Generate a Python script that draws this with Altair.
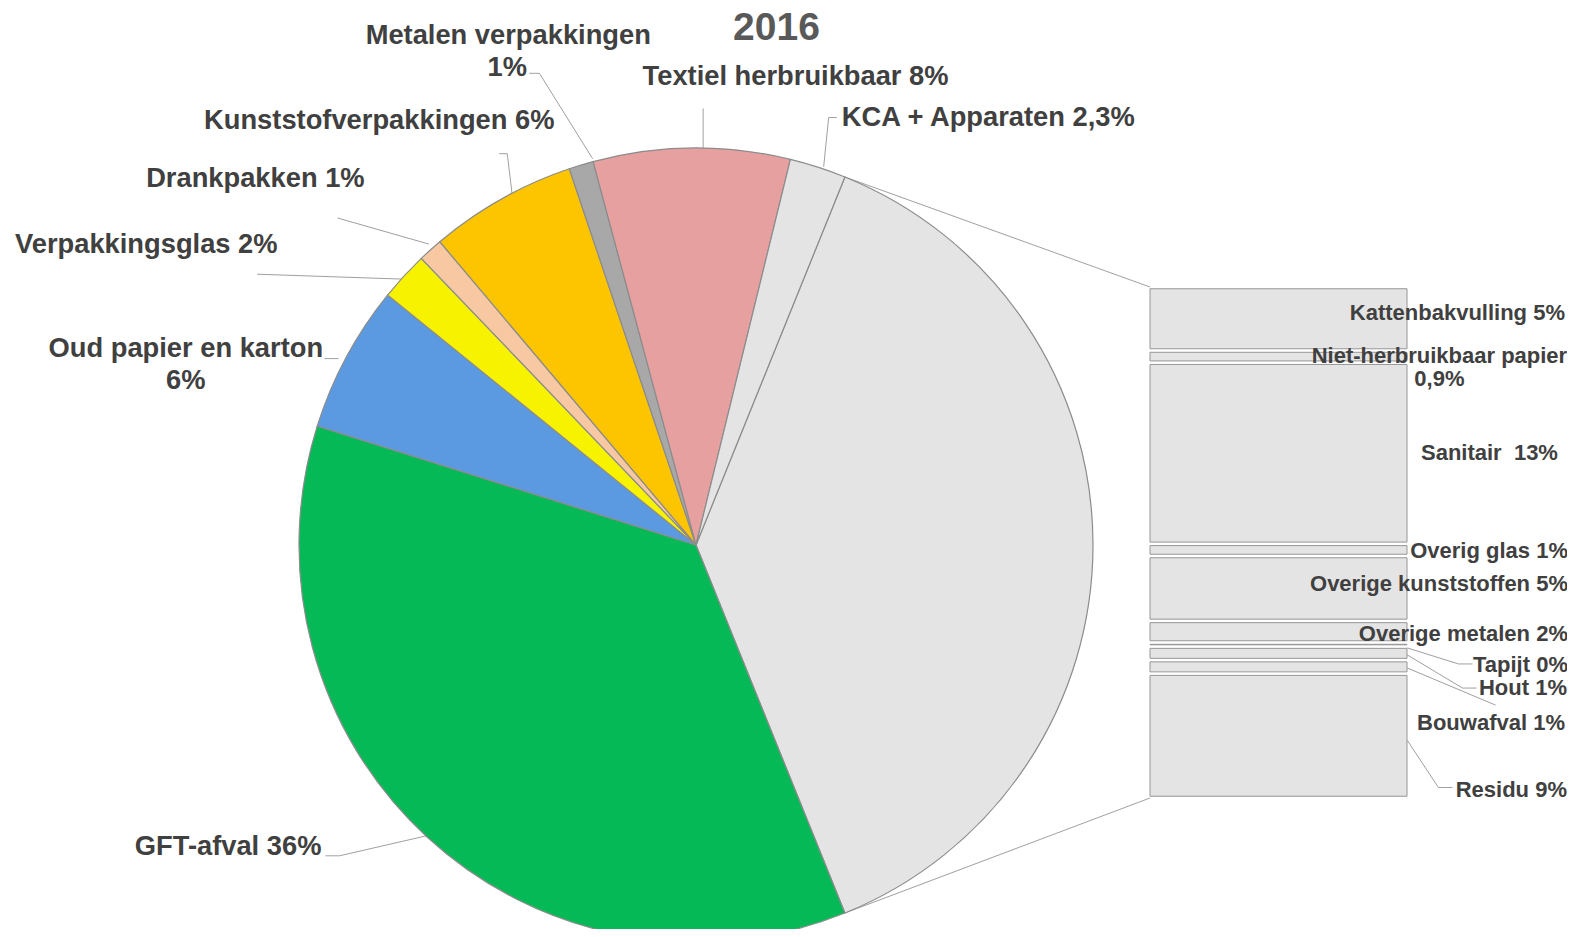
import math
import altair as alt
import pandas as pd

# ---------------- data ----------------
pie_labels = ["GFT-afval", "Oud papier en karton", "Verpakkingsglas", "Drankpakken",
              "Kunststofverpakkingen", "Metalen verpakkingen", "Textiel herbruikbaar",
              "KCA + Apparaten"]
pie_values = [36, 6, 2, 1, 6, 1, 8, 2.3]
pie_display = ["36%", "6%", "2%", "1%", "6%", "1%", "8%", "2,3%"]

bar_labels = ["Kattenbakvulling", "Niet-herbruikbaar papier", "Sanitair", "Overig glas",
              "Overige kunststoffen", "Overige metalen", "Tapijt", "Hout", "Bouwafval", "Residu"]
bar_values = [4.7, 0.9, 13.4, 0.9, 4.8, 1.6, 0.3, 1.0, 1.0, 9.2]
bar_display = ["5%", "0,9%", "13%", "1%", "5%", "2%", "0%", "1%", "1%", "9%"]

title_text = "2016"

# ---------------- styling / layout ----------------
M = 8          # page margin
S = 1575 / 1568  # layout read on a slightly shrunk view
W, H = 1559, 921
CX, CY, R = 696 - M, 545 - M, 397
BAR_X0, BAR_X1 = 1150 - M, 1407 - M
BAR_Y0, BAR_Y1 = 287 - M, 798 - M
TXT = "#404040"
FONT = "Liberation Sans"
PIE_FS, BAR_FS = 27.3, 22

grey_total = sum(bar_values)
pie_all_labels = ["Overig"] + pie_labels
pie_all_values = [grey_total] + pie_values
pie_total = sum(pie_all_values)
grey_span = 2 * math.pi * grey_total / pie_total
A0 = math.pi / 2 - grey_span / 2  # grey slice centred on the right

pie_colors = ["#e4e4e4", "#06b957", "#5b9ae0", "#f7f200", "#f8c8a2",
              "#fdc400", "#a8a8a8", "#e6a0a0", "#e4e4e4"]

pie_df = pd.DataFrame({"cat": pie_all_labels, "value": pie_all_values,
                       "idx": list(range(len(pie_all_labels)))})
bar_df = pd.DataFrame({"cat": bar_labels, "value": bar_values,
                       "idx": list(range(len(bar_labels)))})

pie = alt.Chart(pie_df).mark_arc(outerRadius=R, stroke="#8c8c8c", strokeWidth=1.2).encode(
    theta=alt.Theta("value:Q", stack=True,
                    scale=alt.Scale(range=[A0, A0 + 2 * math.pi])),
    color=alt.Color("cat:N", scale=alt.Scale(domain=pie_all_labels, range=pie_colors),
                    legend=None),
    order=alt.Order("idx:Q"),
    x=alt.value(CX), y=alt.value(CY),
)

bar = alt.Chart(bar_df).transform_window(
    cum="sum(value)", sort=[alt.SortField("idx")], frame=[None, 0]
).transform_calculate(
    y0="datum.cum - datum.value + 0.13", y1="datum.cum - 0.13"
).mark_rect(fill="#e4e4e4", stroke="#969696", strokeWidth=1).encode(
    y=alt.Y("y0:Q", scale=alt.Scale(domain=[0, grey_total], range=[BAR_Y0, BAR_Y1],
                                    nice=False, zero=True), axis=None),
    y2="y1:Q",
    x=alt.value(BAR_X0), x2=alt.value(BAR_X1),
)

# connectors from pie to bar (pie geometry)
def edge(a):
    return (CX + R * math.sin(a), CY - R * math.cos(a))

p0 = edge(A0)
p1 = edge(A0 + grey_span)

# leader lines (positions read on the shrunk view)
leaders = [
    [(527, 73), (537, 73), (590, 158)],
    [(700, 108), (700, 148)],
    [(833, 117), (825, 117), (820, 166)],
    [(497, 153), (505, 153), (510, 195)],
    [(336, 217), (427, 243)],
    [(256, 273), (405, 278)],
    [(323, 357), (337, 357)],
    [(324, 852), (338, 852), (425, 832)],
    [(1401, 645), (1452, 661), (1466, 661)],
    [(1401, 652), (1456, 685), (1470, 685)],
    [(1401, 665), (1489, 702)],
    [(1401, 737), (1432, 784), (1446, 784)],
]
rows = []
for i, path in enumerate(leaders):
    for j, (x, y) in enumerate(path):
        rows.append({"path": f"l{i}", "o": j, "x": x * S - M, "y": y * S - M})
for i, (a, b) in enumerate([(p0, (BAR_X0, BAR_Y0)), (p1, (BAR_X0, BAR_Y1))]):
    rows.append({"path": f"c{i}", "o": 0, "x": a[0], "y": a[1]})
    rows.append({"path": f"c{i}", "o": 1, "x": b[0], "y": b[1]})
lines_df = pd.DataFrame(rows)

lines = alt.Chart(lines_df).mark_line(stroke="#a0a0a0", strokeWidth=1).encode(
    x=alt.X("x:Q", scale=None, axis=None),
    y=alt.Y("y:Q", scale=None, axis=None),
    detail="path:N",
    order="o:Q",
)

# label placement (read on the shrunk view)
label_pos = [
    (title_text, 773, 27.5, "center", 39, "#595959"),
    ("Metalen verpakkingen", 506, 36, "center", PIE_FS, TXT),
    (pie_display[5], 505, 68, "center", PIE_FS, TXT),
    (f"{pie_labels[6]} {pie_display[6]}", 792, 77, "center", PIE_FS, TXT),
    (f"{pie_labels[7]} {pie_display[7]}", 838, 117, "left", PIE_FS, TXT),
    (f"{pie_labels[4]} {pie_display[4]}", 552, 120, "right", PIE_FS, TXT),
    (f"{pie_labels[3]} {pie_display[3]}", 363, 178, "right", PIE_FS, TXT),
    (f"{pie_labels[2]} {pie_display[2]}", 15, 244, "left", PIE_FS, TXT),
    (pie_labels[1], 185, 347, "center", PIE_FS, TXT),
    (pie_display[1], 185, 379, "center", PIE_FS, TXT),
    (f"{pie_labels[0]} {pie_display[0]}", 320, 843, "right", PIE_FS, TXT),
    (f"{bar_labels[0]} {bar_display[0]}", 1558, 312, "right", BAR_FS, TXT),
    (bar_labels[1], 1433, 354, "center", BAR_FS, TXT),
    (bar_display[1], 1433, 377, "center", BAR_FS, TXT),
    (f"{bar_labels[2]}\u00a0 {bar_display[2]}", 1551, 451, "right", BAR_FS, TXT),
    (f"{bar_labels[3]} {bar_display[3]}", 1561, 549, "right", BAR_FS, TXT),
    (f"{bar_labels[4]} {bar_display[4]}", 1561, 581, "right", BAR_FS, TXT),
    (f"{bar_labels[5]} {bar_display[5]}", 1561, 631, "right", BAR_FS, TXT),
    (f"{bar_labels[6]} {bar_display[6]}", 1561, 662, "right", BAR_FS, TXT),
    (f"{bar_labels[7]} {bar_display[7]}", 1560, 685, "right", BAR_FS, TXT),
    (f"{bar_labels[8]} {bar_display[8]}", 1558, 720, "right", BAR_FS, TXT),
    (f"{bar_labels[9]} {bar_display[9]}", 1560, 786, "right", BAR_FS, TXT),
]
lab_df = pd.DataFrame([{"t": t, "x": x * S - M, "y": y * S - M, "al": al, "fs": fs, "col": c}
                       for t, x, y, al, fs, c in label_pos])

def text_layer(al):
    return alt.Chart(lab_df).transform_filter(alt.datum.al == al).mark_text(
        align=al, baseline="middle", font=FONT, fontWeight="bold"
    ).encode(
        x=alt.X("x:Q", scale=None, axis=None),
        y=alt.Y("y:Q", scale=None, axis=None),
        text="t:N",
        size=alt.Size("fs:Q", scale=None, legend=None),
        color=alt.Color("col:N", scale=None, legend=None),
    )

chart = alt.layer(
    lines, pie, bar, text_layer("left"), text_layer("right"), text_layer("center")
).resolve_scale(
    x="independent", y="independent", color="independent", size="independent"
).properties(
    width=W, height=H, autosize=alt.AutoSizeParams(type="none"), padding=0
).configure_view(stroke=None)

chart.save("out.html", embed_options={"renderer": "svg", "actions": False})
